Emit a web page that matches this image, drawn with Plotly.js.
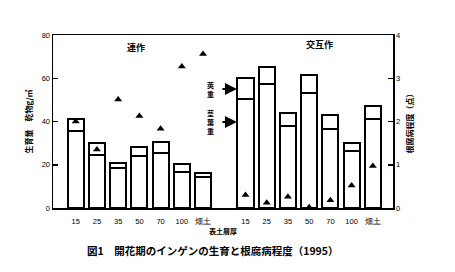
<!DOCTYPE html>
<html>
<head>
<meta charset="utf-8">
<script src="https://cdn.plot.ly/plotly-3.0.1.min.js"></script>
<style>html,body{margin:0;padding:0;background:#fff;}#chart{width:455px;height:272px;}</style>
</head>
<body>
<div id="chart"></div>
<script>
// Data
const categories = ["15", "25", "35", "50", "70", "100", "畑土"];
const groupNames = ["連作", "交互作"];
// Growth (dry matter g/m2): lower segment (茎葉重) and total bar height
const rensakuLower = [35.5, 24.5, 18.5, 24.0, 25.5, 16.5, 14.5];
const rensakuTotal = [41.0, 30.0, 21.0, 28.0, 30.7, 20.3, 16.0];
const kogoLower    = [50.4, 57.2, 38.1, 53.0, 36.4, 26.5, 41.2];
const kogoTotal    = [60.2, 65.3, 43.8, 61.3, 42.9, 29.9, 47.3];
// Root rot severity (right axis)
const rensakuRot = [2.00, 1.35, 2.51, 2.13, 1.83, 3.27, 3.56];
const kogoRot    = [0.30, 0.12, 0.26, 0.02, 0.18, 0.52, 0.97];

const font = "'Noto Sans CJK JP', 'Liberation Sans', sans-serif";
const n = categories.length;
const xLeft = categories.map((c, i) => i);
const xRight = categories.map((c, i) => i + n + 1);
const diff = (a, b) => a.map((v, i) => +(v - b[i]).toFixed(2));

const barStyle = {color: "#ffffff", line: {color: "#000000", width: 2}};
const traces = [
  {type: "bar", x: xLeft, y: rensakuLower, marker: barStyle, width: 0.76, name: "茎葉重", showlegend: false, hoverinfo: "y"},
  {type: "bar", x: xLeft, y: diff(rensakuTotal, rensakuLower), marker: barStyle, width: 0.76, name: "莢重", showlegend: false, hoverinfo: "y"},
  {type: "bar", x: xRight, y: kogoLower, marker: barStyle, width: 0.76, name: "茎葉重", showlegend: false, hoverinfo: "y"},
  {type: "bar", x: xRight, y: diff(kogoTotal, kogoLower), marker: barStyle, width: 0.76, name: "莢重", showlegend: false, hoverinfo: "y"},
  {type: "scatter", mode: "markers", x: xLeft, y: rensakuRot, yaxis: "y2", cliponaxis: false,
   marker: {symbol: "triangle-up", size: 7, color: "#000000"}, showlegend: false},
  {type: "scatter", mode: "markers", x: xRight, y: kogoRot, yaxis: "y2", cliponaxis: false,
   marker: {symbol: "triangle-up", size: 7, color: "#000000"}, showlegend: false}
];

const tickFont = {family: "'Liberation Sans', Arial, sans-serif", size: 7.5, color: "#000"};
const layout = {
  width: 455, height: 272,
  margin: {l: 53, r: 62, t: 35, b: 64},
  paper_bgcolor: "#fff", plot_bgcolor: "#fff",
  barmode: "stack",
  showlegend: false,
  xaxis: {
    range: [-1.07, 14.95],
    tickvals: xLeft.concat(xRight),
    ticktext: categories.concat(categories),
    tickfont: tickFont, tickangle: 0, ticklabelstandoff: 5,
    showline: true, linecolor: "#000", linewidth: 1.5, mirror: true,
    showgrid: false, zeroline: false, ticks: "",
    title: {text: "表土層厚", font: {family: font, size: 7, color: "#000", weight: "bold"}, standoff: 4}
  },
  yaxis: {
    range: [0, 80], dtick: 20,
    tickfont: tickFont,
    ticks: "inside", ticklen: 5, tickwidth: 1.5, tickcolor: "#000",
    showline: true, linecolor: "#000", linewidth: 1.5,
    showgrid: false, zeroline: false,
    title: {text: "生育量　乾物g/㎡", font: {family: font, size: 8, color: "#000", weight: "bold"}, standoff: 8}
  },
  yaxis2: {
    overlaying: "y", side: "right",
    range: [0, 4], dtick: 1,
    tickfont: tickFont,
    ticks: "inside", ticklen: 5, tickwidth: 1.5, tickcolor: "#000",
    showline: true, linecolor: "#000", linewidth: 1.5,
    showgrid: false, zeroline: false,
    title: {text: "根腐病程度（点）", font: {family: font, size: 8, color: "#000", weight: "bold"}, standoff: 8}
  },
  annotations: [
    {text: "<b>" + groupNames[0] + "</b>", x: (xLeft[2] + xLeft[3]) / 2 + 0.35, y: 74, xref: "x", yref: "y",
     showarrow: false, font: {family: font, size: 9, color: "#000"}},
    {text: "<b>" + groupNames[1] + "</b>", x: (xRight[3] + xRight[4]) / 2, y: 75.5, xref: "x", yref: "y",
     showarrow: false, font: {family: font, size: 9, color: "#000"}},
    {text: "<b>莢<br>重</b>", x: 0.463, y: 55, xref: "paper", yref: "y", showarrow: false,
     font: {family: font, size: 7, color: "#000"}},
    {text: "<b>茎<br>葉<br>重</b>", x: 0.463, y: 40, xref: "paper", yref: "y", showarrow: false,
     font: {family: font, size: 7, color: "#000"}},
    {text: "", x: 0.541, y: 55, xref: "paper", yref: "y", showarrow: true, arrowhead: 2, arrowsize: 1.2,
     arrowwidth: 2, arrowcolor: "#000", ax: -16, ay: 0},
    {text: "", x: 0.541, y: 39.8, xref: "paper", yref: "y", showarrow: true, arrowhead: 2, arrowsize: 1.2,
     arrowwidth: 2, arrowcolor: "#000", ax: -16, ay: 0},
    {text: "<b>図1　開花期のインゲンの生育と根腐病程度（1995）</b>", x: 0.095, y: -0.245, xref: "paper", yref: "paper",
     xanchor: "left", yanchor: "middle", showarrow: false,
     font: {family: font, size: 10.5, color: "#000"}}
  ]
};

Plotly.newPlot("chart", traces, layout, {staticPlot: true, displayModeBar: false});
</script>
</body>
</html>
